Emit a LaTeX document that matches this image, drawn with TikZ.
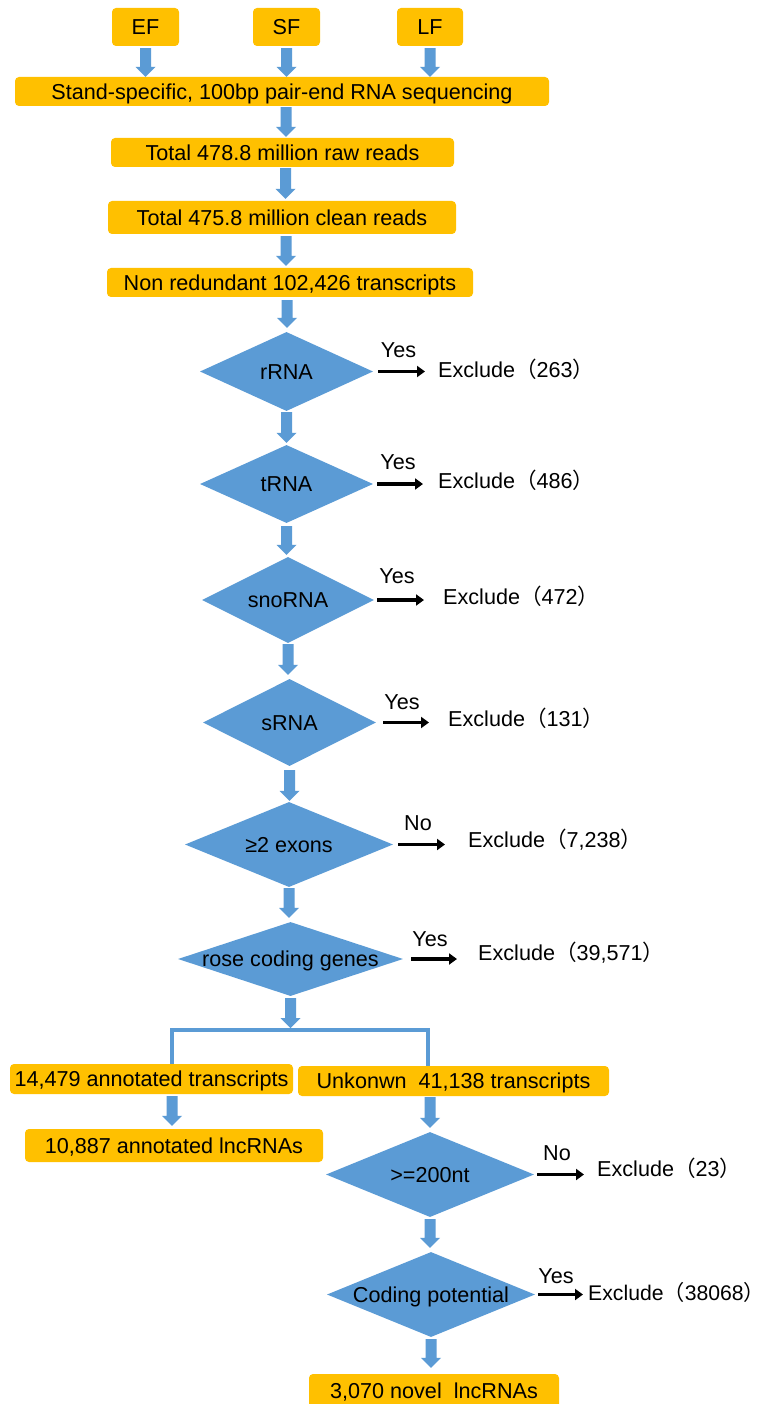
\documentclass[tikz,border=0pt]{standalone}
\usepackage{fontspec}
\setmainfont{Liberation Sans}
\newfontfamily\cjkfont{Noto Sans CJK SC}
\usetikzlibrary{shapes.geometric,arrows.meta,calc}
\definecolor{boxorange}{HTML}{FFC000}
\definecolor{flowblue}{HTML}{5B9BD5}
% block arrow: x taken from #1, runs from y of #1 down to y of #2
\newcommand\blockarrow[2]{\fill[flowblue] let \p1=#1, \p2=#2 in
  (\x1-5.5pt,\y1) -- (\x1+5.5pt,\y1) -- (\x1+5.5pt,\y2+10pt) -- (\x1+10pt,\y2+10pt)
  -- (\x1,\y2) -- (\x1-10pt,\y2+10pt) -- (\x1-5.5pt,\y2+10pt) -- cycle;}
\newcommand\cjkl{{\cjkfont （}}
\newcommand\cjkr{{\cjkfont ）}}
\begin{document}
\begin{tikzpicture}[x=1pt,y=-1pt,
  txt/.style={font=\fontsize{21.6pt}{25pt}\selectfont, text height=15.5pt, text depth=0pt, inner sep=0pt},
  ybox/.style 2 args={txt, fill=boxorange, rounded corners=4pt, minimum width=#1pt, minimum height=#2pt},
  dia/.style 2 args={diamond, fill=flowblue, inner sep=0pt, minimum width=#1pt, minimum height=#2pt},
  lbl/.style={txt, anchor=base},
  exc/.style={font=\fontsize{21.6pt}{25pt}\selectfont, inner sep=0pt, anchor=base west},
  ynarrow/.style={draw=black, line width=3.4pt, -{Triangle[length=8pt,width=11pt]}},
  barline/.style={draw=flowblue, line width=4pt}
]
\fill[white] (0,0) rectangle (767,1404);
\useasboundingbox (0,0) rectangle (767,1404);

% top boxes
\node[ybox={67}{38}] (ef) at (145.5,27) {EF};
\node[ybox={67}{38}] (sf) at (286.5,27) {SF};
\node[ybox={66}{38}] (lf) at (430,27) {LF};
\node[ybox={534}{29}] (seq) at (282,91.5) {Stand-specific, 100bp pair-end RNA sequencing};
\node[ybox={343}{29}] (raw) at (282.5,152.5) {Total 478.8 million raw reads};
\node[ybox={348}{33}] (clean) at (282,217.5) {Total 475.8 million clean reads};
\node[ybox={366}{29}] (nr) at (290,282.5) {Non redundant 102,426 transcripts};

% diamonds
\node[dia={173}{79}, label={[txt]center:rRNA}] (d1) at (286.5,371.5) {};
\node[dia={173}{78}, label={[txt]center:tRNA}] (d2) at (286.5,484) {};
\node[dia={172}{86}, label={[txt]center:snoRNA}] (d3) at (288,600) {};
\node[dia={173}{87}, label={[txt]center:sRNA}] (d4) at (289.5,722.5) {};
\node[dia={208}{85}, label={[txt]center:≥2 exons}] (d5) at (289,844.5) {};
\node[dia={225}{74}, label={[txt]center:rose coding genes}] (d6) at (290.5,959) {};

% split
\coordinate (bl) at (172,1030);
\coordinate (br) at (428,1030);
\coordinate (split) at (291,1028);
\node[ybox={283}{30}] (a1) at (151.5,1079) {14,479 annotated transcripts};
\node[ybox={311}{30}] (a2) at (453.5,1081) {Unkonwn\ \ 41,138 transcripts};
\node[ybox={298}{33}] (a3) at (174,1145.5) {10,887 annotated lncRNAs};
\node[dia={208}{85}, label={[txt]center:>=200nt}] (d7) at (430,1174.5) {};
\node[dia={208}{85}, label={[txt]center:Coding potential}] (d8) at (431,1294.5) {};
\node[ybox={250}{34}] (fin) at (434,1391) {3,070 novel\ \ lncRNAs};

\draw[barline] (a1.north -| bl) -- (bl) -- (br) -- (a2.north -| br);

% blue arrows
\blockarrow{([yshift=-2pt]ef.south)}{(seq.north)}
\blockarrow{([yshift=-2pt]sf.south)}{(seq.north)}
\blockarrow{([yshift=-2pt]lf.south)}{(seq.north)}
\blockarrow{([xshift=4pt,yshift=-1pt]seq.south)}{([yshift=1pt]raw.north)}
\blockarrow{([xshift=3pt,yshift=-1pt]raw.south)}{([yshift=2pt]clean.north)}
\blockarrow{([xshift=4pt,yshift=-2pt]clean.south)}{([yshift=2pt]nr.north)}
\blockarrow{([xshift=-3pt,yshift=-3pt]nr.south)}{([yshift=4pt]d1.north)}
\blockarrow{([yshift=-1pt]d1.south)}{([yshift=2pt]d2.north)}
\blockarrow{([yshift=-3pt]d2.south)}{([yshift=2pt]d3.north)}
\blockarrow{([yshift=-1pt]d3.south)}{([yshift=4pt]d4.north)}
\blockarrow{([yshift=-4pt]d4.south)}{([yshift=1pt]d5.north)}
\blockarrow{([yshift=-1pt]d5.south)}{([yshift=4pt]d6.north)}
\blockarrow{([yshift=-2pt]d6.south)}{(split)}
\blockarrow{([yshift=-2pt]a1.south -| bl)}{([yshift=3pt]a3.north)}
\blockarrow{([yshift=-1pt]a2.south -| d7.north)}{([yshift=4pt]d7.north)}
\blockarrow{([yshift=-2pt]d7.south)}{([yshift=4pt]d8.north)}
\blockarrow{([yshift=-2pt]d8.south)}{([yshift=6pt]fin.north)}

% exclude texts
\node[exc] (e1) at (438,377) {Exclude\cjkl 263\cjkr};
\node[exc] (e2) at (438,488) {Exclude\cjkl 486\cjkr};
\node[exc] (e3) at (443,604.5) {Exclude\cjkl 472\cjkr};
\node[exc] (e4) at (448,726.5) {Exclude\cjkl 131\cjkr};
\node[exc] (e5) at (468,847.5) {Exclude\cjkl 7,238\cjkr};
\node[exc] (e6) at (478,960.5) {Exclude\cjkl 39,571\cjkr};
\node[exc] (e7) at (597,1176.5) {Exclude\cjkl 23\cjkr};
\node[exc, font=\fontsize{21.2pt}{25pt}\selectfont] (e8) at (588,1300.5) {Exclude\cjkl 38068\cjkr};

% yes / no labels
\node[lbl] (y1) at (398.5,357) {Yes};
\node[lbl] (y2) at (398,469) {Yes};
\node[lbl] (y3) at (397,583) {Yes};
\node[lbl] (y4) at (402,709) {Yes};
\node[lbl] (y5) at (418,830.5) {No};
\node[lbl] (y6) at (430,946.5) {Yes};
\node[lbl] (y7) at (557,1160.5) {No};
\node[lbl] (y8) at (556,1283.5) {Yes};

% black arrows
\draw[ynarrow, shorten <=5pt, shorten >=13pt] (d1.east) -- (d1.east -| e1.west);
\draw[ynarrow, shorten <=4pt, shorten >=15pt] (d2.east) -- (d2.east -| e2.west);
\draw[ynarrow, shorten <=3pt, shorten >=19pt] (d3.east) -- (d3.east -| e3.west);
\draw[ynarrow, shorten <=7pt, shorten >=19pt] (d4.east) -- (d4.east -| e4.west);
\draw[ynarrow, shorten <=5pt, shorten >=23pt] (d5.east) -- (d5.east -| e5.west);
\draw[ynarrow, shorten <=8pt, shorten >=21pt] (d6.east) -- (d6.east -| e6.west);
\draw[ynarrow, shorten <=3pt, shorten >=13pt] (d7.east) -- (d7.east -| e7.west);
\draw[ynarrow, shorten <=3pt, shorten >=5pt] (d8.east) -- (d8.east -| e8.west);
\end{tikzpicture}
\end{document}
